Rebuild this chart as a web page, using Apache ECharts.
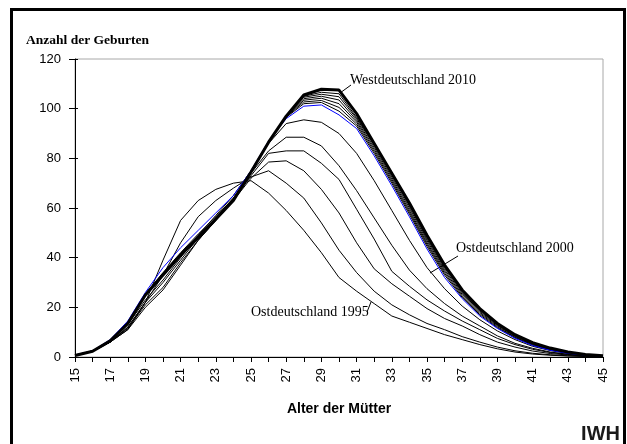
<!DOCTYPE html>
<html>
<head>
<meta charset="utf-8">
<script src="https://cdn.jsdelivr.net/npm/echarts@6/dist/echarts.min.js"></script>
<style>
  html, body { margin: 0; padding: 0; background: #fff; }
  #chart { width: 627px; height: 444px; }
</style>
</head>
<body>
<div id="chart"></div>
<script>
// Alter der Mütter (15 .. 45)
const ages = [15,16,17,18,19,20,21,22,23,24,25,26,27,28,29,30,31,32,33,34,35,36,37,38,39,40,41,42,43,44,45]

// Ostdeutschland, Kurven von 1995 bis 2000
const ost1995 = [0.8,2.5,6,11,22,39,55,63,67.5,70,71,66,59,51,42,32,26.5,21.5,16.5,14,11.5,9,7,5,3.3,2,1.2,0.7,0.4,0.2,0.1]
const ost1996 = [0.7,2.3,6,12,22,33,46,56.5,63,68,72.5,75,70,64,54,43,34,26.5,21,17,13.5,11,8.2,6,4,2.5,1.5,0.9,0.5,0.3,0.1]
const ost1997 = [0.6,2.2,6,11,20,27,37,47,55,63,72,78.5,79,75,67.5,58,46,35.5,29.5,24.5,19.5,15.5,12.5,9,6,4,2.4,1.4,0.8,0.4,0.2]
const ost1998 = [0.6,2.2,6.2,11.5,21,28,38,47,55,63,73,82,83,83,78,71.5,59.5,47.5,34.5,28.5,23,18.5,14.5,11,7.5,5,3.1,1.8,1,0.5,0.2]
const ost1999 = [0.6,2.3,6,12,22,30,39,48,56,64,74,83,88.5,88.5,85,77,67,56,45,35,27.5,21.5,16.5,12.5,8.5,5.5,3.5,2,1.1,0.6,0.3]
const ost2000 = [0.7,2.4,6.5,13,23,31,40,49,57,65,75,86,94,95.5,94.5,90,82,71,59,47,36,27.5,20.5,15,10.5,7,4.3,2.6,1.4,0.7,0.3]

// Westdeutschland (Bündel), blau und fett markiert
const west1995 = [0.8,2.5,7,14.5,26,36,44,51,58,65,75,87,96,101,101.5,97.5,92,81,69,56.5,43.5,32,23.5,16.5,11.5,7.5,4.6,2.7,1.5,0.8,0.4]
const west1998 = [0.7,2.4,6.8,14,25.5,34,42,49.5,56.5,64,74.5,86.5,96.5,102,102.5,99,93,82,70,57.5,44.5,33,24,17,11.8,7.8,4.8,2.9,1.6,0.8,0.4]
const west2000 = [0.7,2.4,6.7,13.8,25.3,33.7,41.7,49,56,63.7,74.5,86.5,96.7,102.7,103.3,100.5,93.8,82.8,70.8,58.3,45.3,33.7,24.6,17.5,12.2,8,5,3,1.7,0.9,0.4]
const west2002 = [0.6,2.3,6.6,13.7,25.2,33.5,41.5,48.7,55.8,63.4,74.5,86.5,96.8,103.4,104.2,102,94.6,83.6,71.6,59.1,46,34.4,25.2,18,12.6,8.3,5.2,3.2,1.8,0.9,0.5]
const west2004 = [0.6,2.3,6.5,13.6,25.1,33.3,41.3,48.4,55.7,63.2,74.5,86.5,96.9,104,105,103.5,95.3,84.4,72.4,60,46.8,35.1,25.8,18.5,12.9,8.6,5.4,3.3,1.8,0.9,0.5]
const west2006 = [0.6,2.3,6.5,13.5,25,33.2,41.2,48.2,55.6,63.1,74.5,86.5,97,104.6,105.8,104.8,96,85.2,73.2,60.8,47.5,35.8,26.3,19,13.2,8.8,5.6,3.4,1.9,1,0.5]
const west2008 = [0.6,2.3,6.5,13.5,25,33.1,41.1,48.1,55.5,63,74.5,86.5,97,105,106.6,106,96.5,85.7,73.7,61.4,48.2,36.4,26.7,19.3,13.4,8.9,5.7,3.5,2,1,0.5]
const west2010 = [0.6,2.3,6.5,13.5,25,33,41,48,55.5,63,74.5,86.5,97,105.5,107.8,107.5,98,86,74,62,49,37,27,19.5,13.5,9,5.8,3.6,2,1,0.5]

const yTicks = [0, 20, 40, 60, 80, 100, 120]

const thinSeries = [
    { name: 'Ostdeutschland 1995', data: ost1995 },
    { name: 'Ostdeutschland 1996', data: ost1996 },
    { name: 'Ostdeutschland 1997', data: ost1997 },
    { name: 'Ostdeutschland 1998', data: ost1998 },
    { name: 'Ostdeutschland 1999', data: ost1999 },
    { name: 'Ostdeutschland 2000', data: ost2000 },
    { name: 'Westdeutschland 1998', data: west1998 },
    { name: 'Westdeutschland 2000', data: west2000 },
    { name: 'Westdeutschland 2002', data: west2002 },
    { name: 'Westdeutschland 2004', data: west2004 },
    { name: 'Westdeutschland 2006', data: west2006 },
    { name: 'Westdeutschland 2008', data: west2008 },
]

const toPairs = arr => arr.map((v, i) => [ages[i], v])

const chartInstance = echarts.init(document.getElementById('chart'), null, { renderer: 'canvas' })

const seriesArr = thinSeries.map(item => {
    return {
        name: item.name,
        type: 'line',
        data: toPairs(item.data),
        showSymbol: false,
        lineStyle: { color: '#000', width: 1 },
        z: 2
    }
})
seriesArr.push({
    name: 'Westdeutschland 1995',
    type: 'line',
    data: toPairs(west1995),
    showSymbol: false,
    lineStyle: { color: '#0000ff', width: 1 },
    z: 3
})
seriesArr.push({
    name: 'Westdeutschland 2010',
    type: 'line',
    data: toPairs(west2010),
    showSymbol: false,
    lineStyle: { color: '#000', width: 3 },
    z: 4
})

const sans = 'Liberation Sans, Arial, sans-serif'
const serif = 'Liberation Serif, Times New Roman, serif'

const xBase = {
    type: 'value',
    min: ages[0],
    max: ages[ages.length - 1],
    interval: 1,
    splitLine: { show: false }
}
const yBase = {
    type: 'value',
    min: yTicks[0],
    max: yTicks[yTicks.length - 1],
    interval: 20,
    splitLine: { show: false }
}

const option = {
    animation: false,
    backgroundColor: '#fff',
    grid: {
        left: 75,
        right: 24,
        top: 59,
        bottom: 87,
        show: true,
        borderColor: '#a8a8a8',
        borderWidth: 1
    },
    xAxis: [
        Object.assign({}, xBase, {
            name: 'Alter der Mütter',
            nameLocation: 'middle',
            nameGap: 45,
            nameTextStyle: { fontFamily: sans, fontWeight: 'bold', fontSize: 14, color: '#000' },
            axisLine: { lineStyle: { color: '#000', width: 1 } },
            axisTick: { length: 5, lineStyle: { color: '#000' } },
            axisLabel: {
                rotate: 90,
                margin: 11,
                fontFamily: sans,
                fontSize: 13,
                color: '#000',
                formatter: v => (v % 2 === 1 ? String(v) : '')
            }
        }),
        Object.assign({}, xBase, {
            axisLine: { show: false },
            axisTick: { inside: true, length: 3, lineStyle: { color: '#000' } },
            axisLabel: { show: false }
        })
    ],
    yAxis: [
        Object.assign({}, yBase, {
            axisLine: { show: true, lineStyle: { color: '#000', width: 1 } },
            axisTick: { show: true, length: 6, lineStyle: { color: '#000' } },
            axisLabel: { margin: 14, fontFamily: sans, fontSize: 13, color: '#000' }
        }),
        Object.assign({}, yBase, {
            position: 'left',
            axisLine: { show: false },
            axisTick: { show: true, inside: true, length: 3, lineStyle: { color: '#000' } },
            axisLabel: { show: false }
        })
    ],
    graphic: [
        {
            type: 'rect',
            shape: { x: 11.5, y: 9.5, width: 613, height: 460 },
            style: { fill: null, stroke: '#000', lineWidth: 3 },
            silent: true
        },
        {
            type: 'text',
            left: 26, top: 34,
            style: { text: 'Anzahl der Geburten', font: 'bold 13.5px ' + serif, fill: '#000' }
        },
        {
            type: 'text',
            right: 7, top: 424,
            style: { text: 'IWH', font: 'bold 20px ' + sans, fill: '#1a1a1a' }
        },
        {
            type: 'text',
            left: 350, top: 73,
            style: { text: 'Westdeutschland 2010', font: '14px ' + serif, fill: '#000' }
        },
        {
            type: 'line',
            shape: { x1: 351, y1: 85, x2: 340, y2: 93 },
            style: { stroke: '#000', lineWidth: 1 }
        },
        {
            type: 'text',
            left: 456, top: 241,
            style: { text: 'Ostdeutschland 2000', font: '14px ' + serif, fill: '#000' }
        },
        {
            type: 'line',
            shape: { x1: 458, y1: 256, x2: 430, y2: 273 },
            style: { stroke: '#000', lineWidth: 1 }
        },
        {
            type: 'text',
            left: 251, top: 305,
            style: { text: 'Ostdeutschland 1995', font: '14px ' + serif, fill: '#000' }
        },
        {
            type: 'line',
            shape: { x1: 367, y1: 312, x2: 371, y2: 302 },
            style: { stroke: '#000', lineWidth: 1 }
        }
    ],
    series: seriesArr
}

chartInstance.setOption(option)
</script>
</body>
</html>
